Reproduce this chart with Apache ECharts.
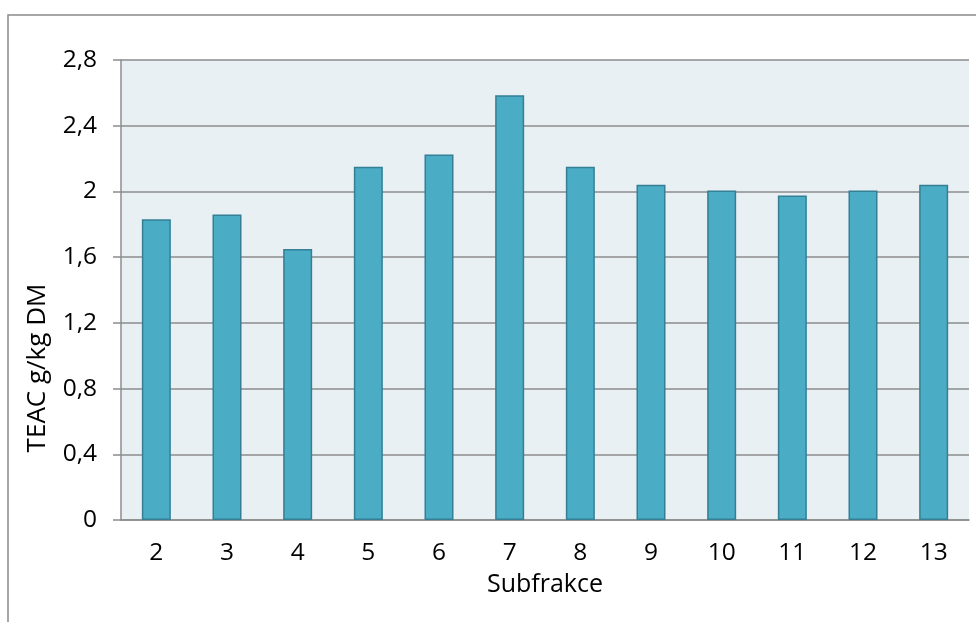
<!DOCTYPE html>
<html>
<head>
<meta charset="utf-8">
<script src="https://cdn.jsdelivr.net/npm/echarts@6/dist/echarts.min.js"></script>
<style>
html,body{margin:0;padding:0;background:#fff;}
#c{width:976px;height:622px;}
</style>
</head>
<body>
<div id="c"></div>
<script>
const categories = ['2','3','4','5','6','7','8','9','10','11','12','13'];
const teacValues = [1.83, 1.86, 1.65, 2.15, 2.225, 2.585, 2.15, 2.04, 2.005, 1.975, 2.005, 2.04];
const yTicks = { min: 0, max: 2.8, interval: 0.4 };
const xAxisName = 'Subfrakce';
const yAxisName = 'TEAC g/kg DM';

const chart = echarts.init(document.getElementById('c'), null, {renderer: 'canvas'});
const font = '"Open Sans", Lato, "Liberation Sans", sans-serif';
chart.setOption({
  animation: false,
  backgroundColor: '#ffffff',
  graphic: [{
    type: 'rect',
    shape: {x: 8, y: 15, width: 1100, height: 800},
    style: {fill: 'none', stroke: '#8a8a8a', lineWidth: 1.5},
    silent: true
  }],
  grid: {
    left: 121, right: 7, top: 60, bottom: 102,
    show: true, backgroundColor: '#e8f0f4', borderWidth: 0,
    containLabel: false
  },
  xAxis: {
    type: 'category',
    data: categories,
    name: xAxisName,
    nameLocation: 'middle',
    nameGap: 52,
    nameTextStyle: {fontFamily: font, fontSize: 25, color: '#000'},
    axisLine: {show: true, lineStyle: {color: '#8c8c8c', width: 1.5}},
    axisTick: {show: false},
    axisLabel: {fontFamily: font, fontSize: 24.5, color: '#000', margin: 21}
  },
  yAxis: {
    type: 'value',
    min: yTicks.min, max: yTicks.max, interval: yTicks.interval,
    name: yAxisName,
    nameLocation: 'middle',
    nameGap: 70,
    nameRotate: 90,
    nameTextStyle: {fontFamily: font, fontSize: 26, color: '#000', padding: [0, 156, 0, 0]},
    axisLine: {show: true, lineStyle: {color: '#8c8c8c', width: 1.5}},
    axisTick: {show: true, length: 8, inside: false, lineStyle: {color: '#8c8c8c', width: 1.5}},
    splitLine: {show: true, lineStyle: {color: '#8c8c8c', width: 1.5}},
    axisLabel: {
      fontFamily: font, fontSize: 24.5, color: '#000', margin: 24,
      formatter: v => String(+v.toFixed(1)).replace('.', ',')
    }
  },
  series: [{
    type: 'bar',
    data: teacValues,
    barWidth: 29,
    itemStyle: {color: '#4bacc6', borderColor: '#357f94', borderWidth: 1.5}
  }]
});
</script>
</body>
</html>
